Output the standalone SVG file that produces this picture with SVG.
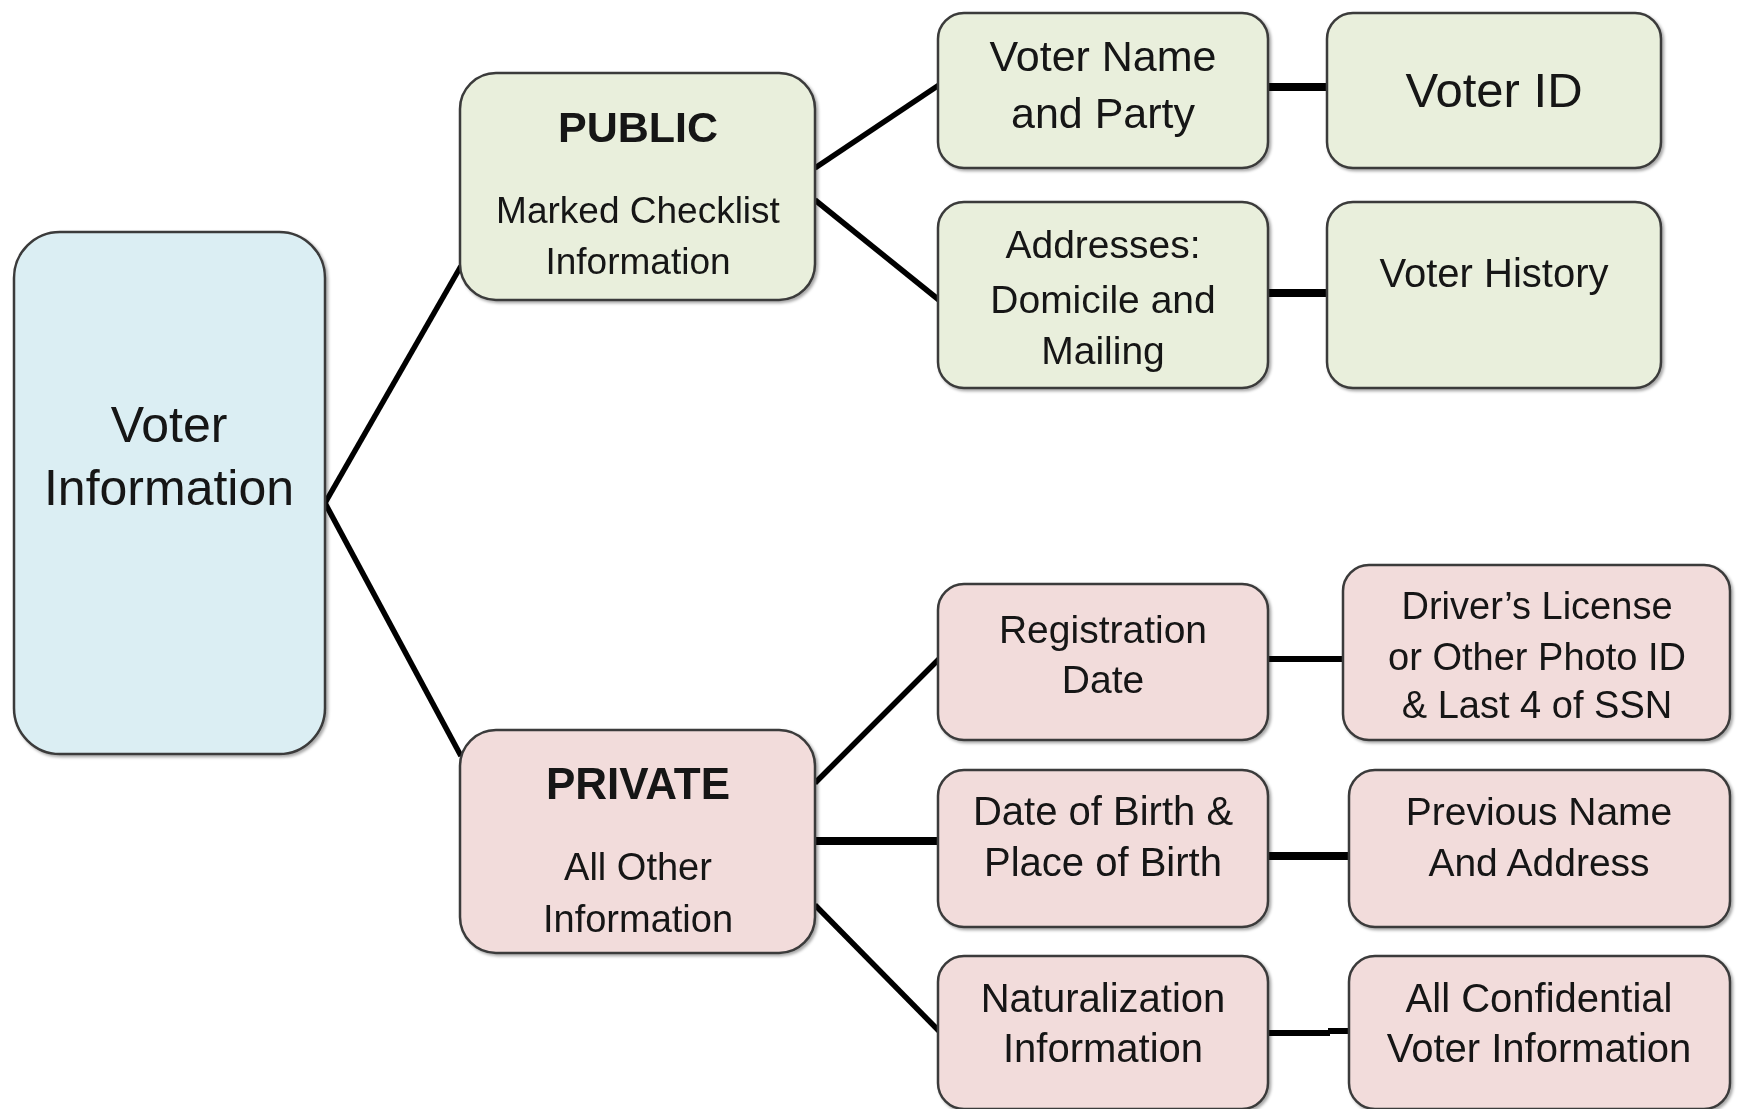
<svg xmlns="http://www.w3.org/2000/svg" width="1737" height="1109" viewBox="0 0 1737 1109">
<style>
.box{stroke:#3a3a3a;stroke-width:2.5}
.blue{fill:#DBEEF3}
.green{fill:#E9EFDC}
.pink{fill:#F2DCDB}
text{font-family:"Liberation Sans",Arial,sans-serif;fill:#141414;text-anchor:middle}
.b{font-weight:bold}
.con{stroke:#000;fill:none}
</style>
<defs>
<filter id="sh" x="-10%" y="-10%" width="130%" height="130%">
<feDropShadow dx="2" dy="2" stdDeviation="1.5" flood-color="#000" flood-opacity="0.35"/>
</filter>
</defs>
<rect width="1737" height="1109" fill="#fff"/>
<g id="connectors">
<line class="con" x1="325" y1="503" x2="461" y2="266" stroke-width="5.5"/>
<line class="con" x1="325" y1="503" x2="461" y2="756" stroke-width="5.5"/>
<line class="con" x1="815" y1="168" x2="939" y2="85" stroke-width="5.5"/>
<line class="con" x1="815" y1="200" x2="939" y2="300" stroke-width="5.5"/>
<line class="con" x1="1268" y1="87" x2="1328" y2="87" stroke-width="8"/>
<line class="con" x1="1268" y1="293" x2="1328" y2="293" stroke-width="8"/>
<line class="con" x1="815" y1="783" x2="939" y2="659" stroke-width="5.5"/>
<line class="con" x1="815" y1="841" x2="939" y2="841" stroke-width="8"/>
<line class="con" x1="815" y1="905" x2="939" y2="1031" stroke-width="5.5"/>
<line class="con" x1="1268" y1="659" x2="1343" y2="659" stroke-width="6"/>
<line class="con" x1="1268" y1="856" x2="1350" y2="856" stroke-width="8"/>
<line class="con" x1="1268" y1="1033" x2="1330" y2="1033" stroke-width="6"/>
<line class="con" x1="1328" y1="1031" x2="1350" y2="1031" stroke-width="6"/>
</g>
<g id="voter-information" filter="url(#sh)">
<rect class="box blue" x="14" y="232" width="311" height="522" rx="46"/>
<text x="169" y="442" font-size="50">Voter</text>
<text x="169" y="505" font-size="50">Information</text>
</g>
<g id="public" filter="url(#sh)">
<rect class="box green" x="460" y="73" width="355" height="227" rx="36"/>
<text class="b" x="638" y="142" font-size="43">PUBLIC</text>
<text x="638" y="223" font-size="37">Marked Checklist</text>
<text x="638" y="274" font-size="37">Information</text>
</g>
<g id="private" filter="url(#sh)">
<rect class="box pink" x="460" y="730" width="355" height="223" rx="36"/>
<text class="b" x="638" y="799" font-size="44">PRIVATE</text>
<text x="638" y="880" font-size="38">All Other</text>
<text x="638" y="932" font-size="38">Information</text>
</g>
<g id="voter-name-party" filter="url(#sh)">
<rect class="box green" x="938" y="13" width="330" height="155" rx="26"/>
<text x="1103" y="71" font-size="43">Voter Name</text>
<text x="1103" y="128" font-size="43">and Party</text>
</g>
<g id="voter-id" filter="url(#sh)">
<rect class="box green" x="1327" y="13" width="334" height="155" rx="26"/>
<text x="1494" y="107" font-size="49">Voter ID</text>
</g>
<g id="addresses" filter="url(#sh)">
<rect class="box green" x="938" y="202" width="330" height="186" rx="26"/>
<text x="1103" y="258" font-size="39">Addresses:</text>
<text x="1103" y="313" font-size="39">Domicile and</text>
<text x="1103" y="364" font-size="39">Mailing</text>
</g>
<g id="voter-history" filter="url(#sh)">
<rect class="box green" x="1327" y="202" width="334" height="186" rx="26"/>
<text x="1494" y="287" font-size="40">Voter History</text>
</g>
<g id="registration-date" filter="url(#sh)">
<rect class="box pink" x="938" y="584" width="330" height="156" rx="26"/>
<text x="1103" y="643" font-size="39">Registration</text>
<text x="1103" y="693" font-size="39">Date</text>
</g>
<g id="drivers-license" filter="url(#sh)">
<rect class="box pink" x="1343" y="565" width="387" height="175" rx="26"/>
<text x="1537" y="619" font-size="38">Driver’s License</text>
<text x="1537" y="670" font-size="38">or Other Photo ID</text>
<text x="1537" y="718" font-size="38">&amp; Last 4 of SSN</text>
</g>
<g id="date-of-birth" filter="url(#sh)">
<rect class="box pink" x="938" y="770" width="330" height="157" rx="26"/>
<text x="1103" y="825" font-size="40">Date of Birth &amp;</text>
<text x="1103" y="876" font-size="40">Place of Birth</text>
</g>
<g id="previous-name" filter="url(#sh)">
<rect class="box pink" x="1349" y="770" width="381" height="157" rx="26"/>
<text x="1539" y="825" font-size="39">Previous Name</text>
<text x="1539" y="876" font-size="39">And Address</text>
</g>
<g id="naturalization" filter="url(#sh)">
<rect class="box pink" x="938" y="956" width="330" height="153" rx="26"/>
<text x="1103" y="1012" font-size="40">Naturalization</text>
<text x="1103" y="1062" font-size="40">Information</text>
</g>
<g id="all-confidential" filter="url(#sh)">
<rect class="box pink" x="1349" y="956" width="381" height="153" rx="26"/>
<text x="1539" y="1012" font-size="40">All Confidential</text>
<text x="1539" y="1062" font-size="40">Voter Information</text>
</g>
</svg>
